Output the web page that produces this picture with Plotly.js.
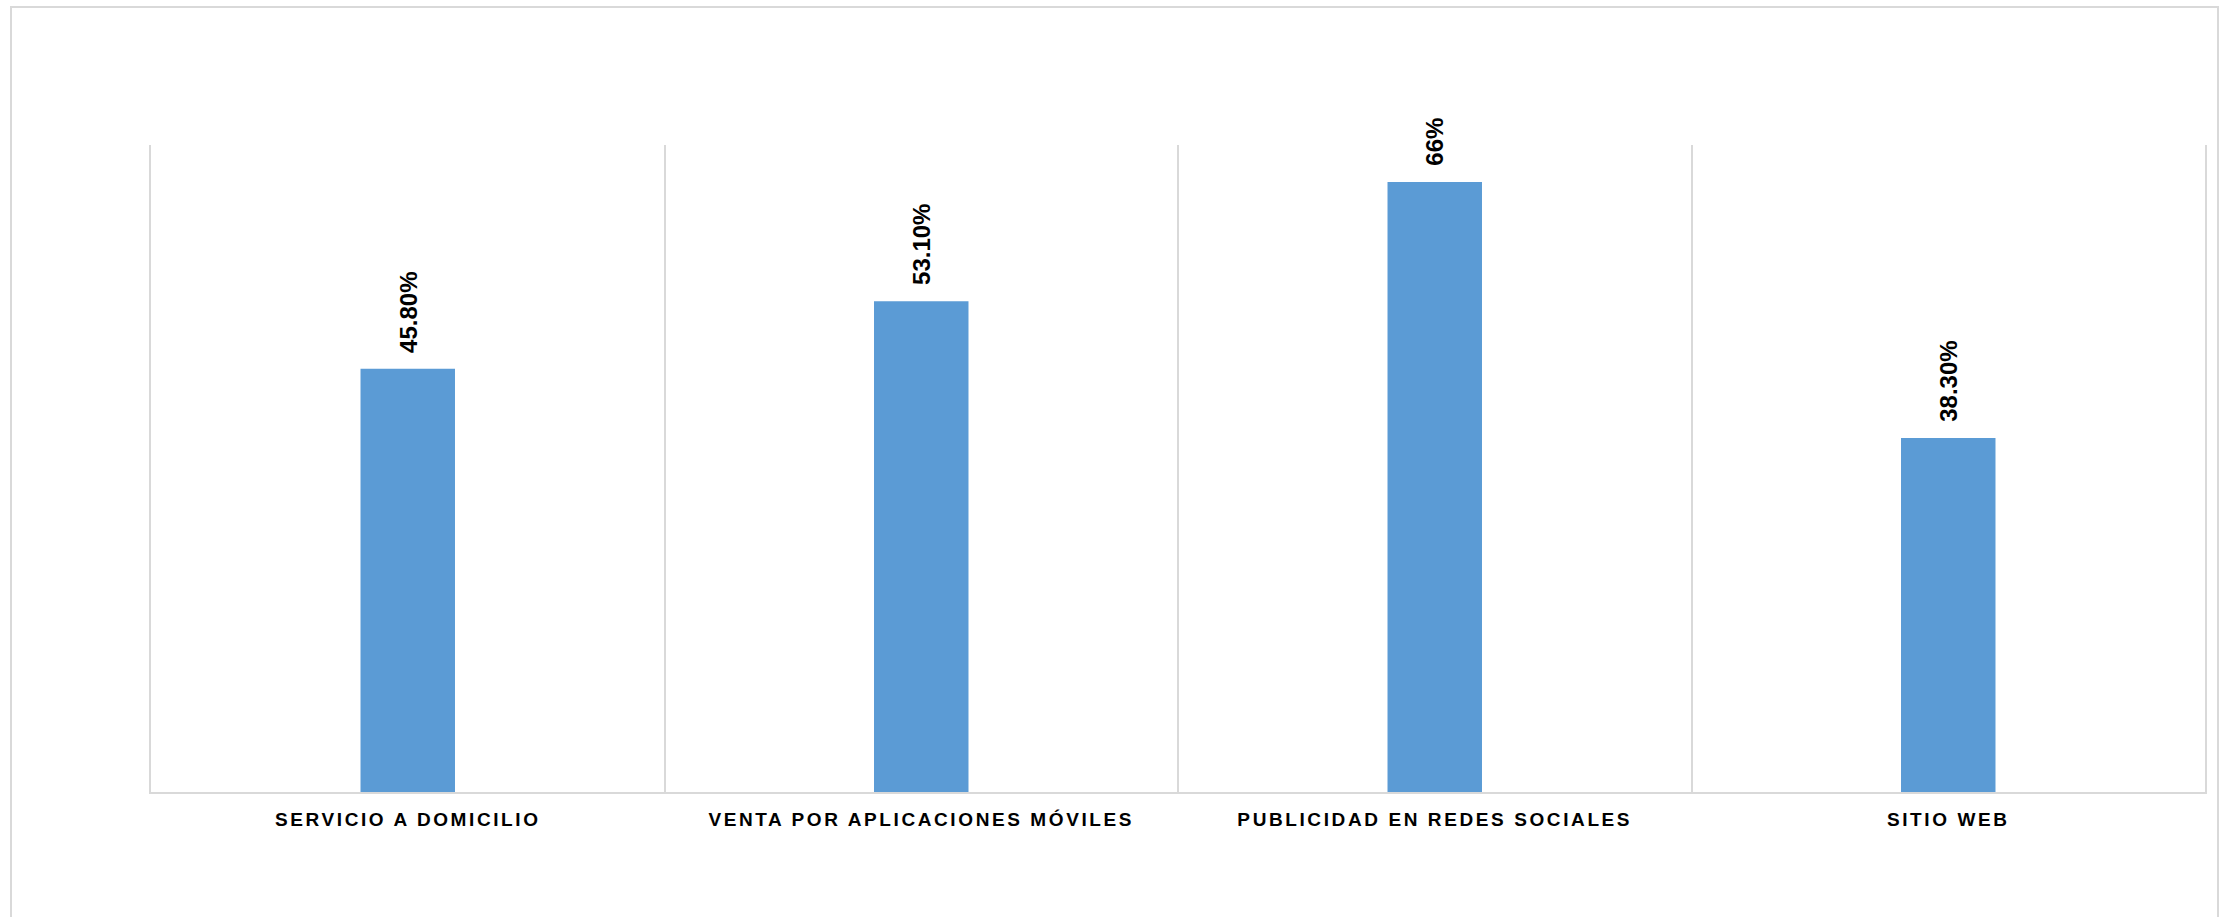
<!DOCTYPE html>
<html>
<head>
<meta charset="utf-8">
<script src="https://cdn.plot.ly/plotly-3.0.1.min.js"></script>
<style>
  html, body { margin: 0; padding: 0; background: #ffffff; }
  #chart { width: 2226px; height: 917px; }
  .xtick text { letter-spacing: 2.6px; }
</style>
</head>
<body>
<div id="chart"></div>
<script>
const categories = ["SERVICIO A DOMICILIO", "VENTA POR APLICACIONES MÓVILES", "PUBLICIDAD EN REDES SOCIALES", "SITIO WEB"];
const values = [45.8, 53.1, 66, 38.3];
const valueLabels = ["45.80%", "53.10%", "66%", "38.30%"];

const W = 2226, H = 917;
const margin = {l: 151, r: 21, t: 145, b: 125};
const pw = W - margin.l - margin.r, ph = H - margin.t - margin.b;
const px = v => (v - margin.l) / pw;
const py = v => (H - margin.b - v) / ph;

const trace = {
  type: "bar",
  x: categories,
  y: values,
  marker: {color: "#5b9bd5"},
  hoverinfo: "none"
};

const annotations = categories.map((c, i) => ({
  x: c, y: values[i], xref: "x", yref: "y",
  text: "<b>" + valueLabels[i] + "</b>",
  textangle: -90,
  showarrow: false,
  xanchor: "center", yanchor: "bottom",
  yshift: 14,
  font: {family: "Liberation Sans, Arial, sans-serif", size: 24, color: "#000000"}
}));

const layout = {
  width: W, height: H,
  margin: margin,
  paper_bgcolor: "#ffffff",
  plot_bgcolor: "#ffffff",
  showlegend: false,
  bargap: 0.816,
  xaxis: {
    type: "category",
    range: [-0.5, 3.5],
    tickson: "boundaries",
    showgrid: true, gridcolor: "#d9d9d9", gridwidth: 2,
    showline: true, linecolor: "#d9d9d9", linewidth: 2,
    ticks: "",
    ticklabelstandoff: 9,
    tickfont: {family: "Liberation Sans, Arial, sans-serif", size: 19, color: "#000000", weight: "bold"},
    fixedrange: true
  },
  yaxis: {
    range: [0, 70],
    showgrid: false, zeroline: false,
    showline: true, mirror: true, linecolor: "#d9d9d9", linewidth: 2,
    showticklabels: false, ticks: "",
    fixedrange: true
  },
  annotations: annotations,
  shapes: [{
    type: "rect", xref: "paper", yref: "paper",
    x0: px(11), x1: px(2218), y0: py(7), y1: py(940),
    line: {color: "#d9d9d9", width: 2}, layer: "below"
  }]
};

Plotly.newPlot("chart", [trace], layout, {displayModeBar: false, staticPlot: true});
</script>
</body>
</html>
